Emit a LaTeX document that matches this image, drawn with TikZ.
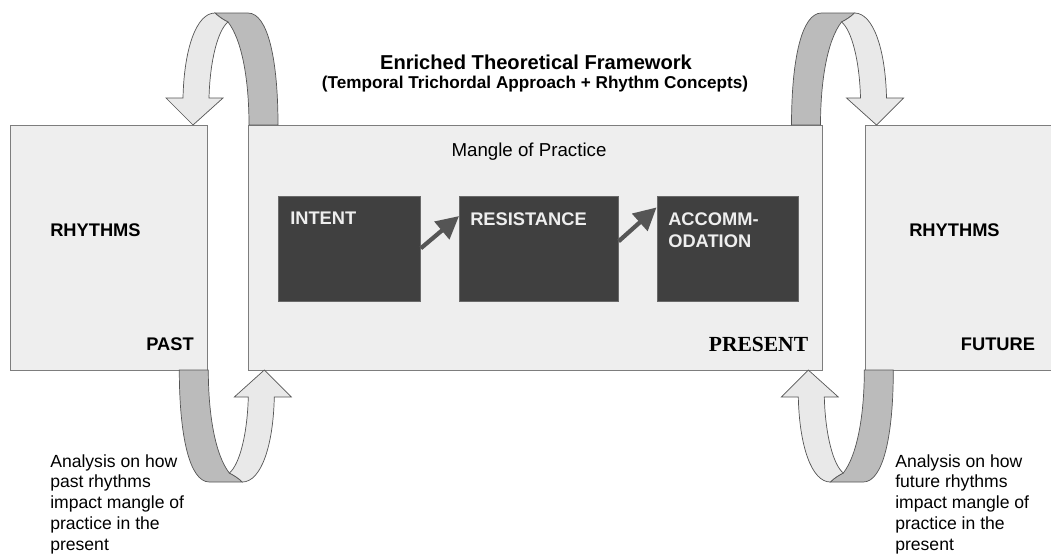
\documentclass[tikz,border=0pt]{standalone}
\usepackage{fontspec}
\setmainfont{Liberation Sans}
\newfontfamily\timesfont{Liberation Serif}
\usetikzlibrary{arrows.meta}

\definecolor{panelfill}{RGB}{238,238,238}
\definecolor{paneledge}{RGB}{125,125,125}
\definecolor{stagefill}{RGB}{64,64,64}
\definecolor{stageedge}{RGB}{105,105,105}
\definecolor{stagetxt}{RGB}{238,238,238}
\definecolor{ribbondark}{RGB}{187,187,187}
\definecolor{ribbonlight}{RGB}{233,233,233}
\definecolor{ribbonedge}{RGB}{85,85,85}
\definecolor{flowgray}{RGB}{85,85,85}

\def\pxu{0.025cm}
\tikzset{
  panel/.style={draw=paneledge, fill=panelfill, inner sep=0pt, minimum height=245*\pxu},
  stagebox/.style={draw=stageedge, fill=stagefill, inner sep=0pt, minimum height=105*\pxu},
  stagetext/.style={anchor=north west, inner sep=0pt, align=left, text=stagetxt,
    font=\fontsize{13}{15.9}\selectfont\bfseries},
  bigword/.style={inner sep=0pt, font=\fontsize{13}{15}\selectfont\bfseries},
  notetext/.style={anchor=north west, inner sep=0pt, align=left,
    font=\fontsize{12.5}{14.8}\selectfont},
  ribbonback/.style={draw=ribbonedge, fill=ribbondark, line width=0.5pt},
  ribbonfront/.style={draw=ribbonedge, fill=ribbonlight, line width=0.5pt},
  flowarrow/.style={draw=flowgray, line width=3pt, -{Triangle[length=16pt, width=16pt]}}
}
% one looping ribbon arrow, drawn as the top left one
\newcommand\loopribbon{%
  \draw[ribbonback] (215,13) -- (248,13) .. controls (268,13) and (278,60) .. (278,125)
    -- (249,125) .. controls (249,80) and (242,40) .. (228,22)
    .. controls (224,20) and (219,17) .. (215,13) -- cycle;
  \draw[ribbonfront] (215,13) .. controls (196,13) and (184,50) .. (183,98)
    -- (166,98) -- (193,125) -- (223,98) -- (209,98)
    .. controls (210,60) and (218,30) .. (228,22)
    .. controls (224,20) and (219,17) .. (215,13) -- cycle;
}

\begin{document}
\begin{tikzpicture}[x=\pxu, y=-\pxu]
  \clip (0,0) rectangle (1051,553);

  %%%%% PANELS %%%%%
  \node[panel, minimum width=197*\pxu] (past) at (108.5,247.5) {};
  \node[panel, minimum width=574*\pxu] (present) at (535,247.5) {};
  \node[panel, minimum width=235*\pxu] (future) at (982.5,247.5) {};

  %%%%% RIBBONS %%%%%
  \loopribbon
  \begin{scope}[shift={(1069.5,0)}, xscale=-1]
    \loopribbon
  \end{scope}
  \begin{scope}[shift={(457.3,495)}, rotate=180]
    \loopribbon
  \end{scope}
  \begin{scope}[shift={(615.3,495)}, yscale=-1]
    \loopribbon
  \end{scope}

  %%%%% TITLES %%%%%
  \node[inner sep=0pt, font=\fontsize{14.3}{16}\selectfont\bfseries] (title) at (536,62)
    {Enriched Theoretical Framework};
  \node[inner sep=0pt, font=\fontsize{12.2}{14}\selectfont\bfseries] (subtitle) at (535,84)
    {(Temporal Trichordal Approach + Rhythm Concepts)};
  \node[inner sep=0pt, font=\fontsize{13.3}{15}\selectfont] (mangle) at (529,152)
    {Mangle of Practice};

  %%%%% STAGES %%%%%
  \node[stagebox, minimum width=142*\pxu] (intent) at (349.5,248.3) {};
  \node[stagebox, minimum width=159*\pxu] (resist) at (538.8,248.3) {};
  \node[stagebox, minimum width=141*\pxu] (accom) at (727.3,248.3) {};
  \node[stagetext] (intenttxt) at (290,212) {INTENT};
  \node[stagetext] (resisttxt) at (470,212) {RESISTANCE};
  \node[stagetext] (accomtxt) at (668,212) {ACCOMM-\\ODATION};

  \draw[flowarrow] (intent.east) -- (resist.158);
  \draw[flowarrow] (resist.5) -- (accom.150.5);

  %%%%% LABELS %%%%%
  \node[bigword, anchor=west] (rhythmsl) at (50,230) {RHYTHMS};
  \node[bigword, anchor=west] (rhythmsr) at (909,230) {RHYTHMS};
  \node[bigword] (pastlbl) at (170,344) {PAST};
  \node[inner sep=0pt, font=\fontsize{15.3}{17}\selectfont\timesfont\bfseries] (presentlbl)
    at (758.5,344) {PRESENT};
  \node[bigword] (futurelbl) at (998,344) {FUTURE};

  \node[notetext] (pastnote) at (50,454)
    {Analysis on how\\past rhythms\\impact mangle of\\practice in the\\present};
  \node[notetext] (futurenote) at (895,454)
    {Analysis on how\\future rhythms\\impact mangle of\\practice in the\\present};
\end{tikzpicture}
\end{document}
